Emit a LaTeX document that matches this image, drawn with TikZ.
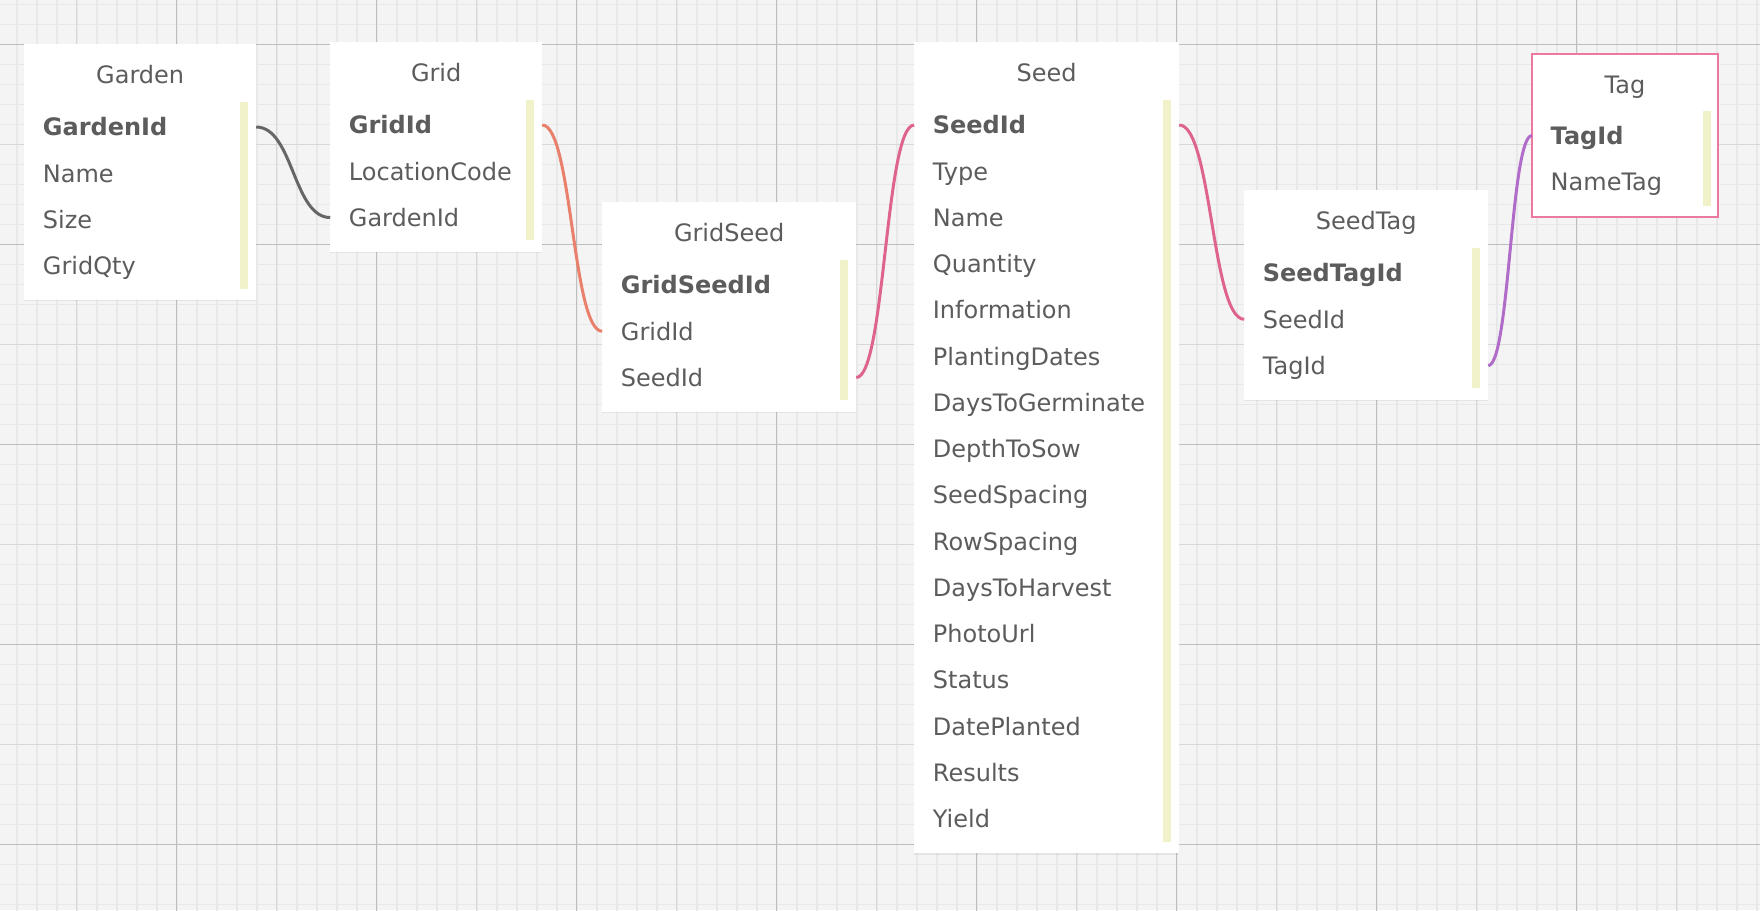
\documentclass[tikz,border=0pt]{standalone}
\usepackage{fontspec}
\setmainfont{DejaVu Sans}
\usetikzlibrary{positioning,shadows}
\definecolor{gridBack}{RGB}{244,244,244}
\definecolor{gridMinor}{RGB}{232,232,232}
\definecolor{gridMid}{RGB}{216,216,216}
\definecolor{gridMajor}{RGB}{190,190,190}
\definecolor{tableText}{RGB}{92,92,92}
\definecolor{keyBar}{RGB}{241,242,202}
\definecolor{linkGray}{RGB}{102,102,102}
\definecolor{linkSalmon}{RGB}{232,128,108}
\definecolor{linkPink}{RGB}{222,100,142}
\definecolor{linkPurple}{RGB}{176,108,200}
\definecolor{tagBorder}{RGB}{236,122,160}

\tikzset{
  tablebox/.style={fill=white, anchor=north west, inner sep=0pt, drop shadow={shadow xshift=0pt, shadow yshift=-1.5pt, opacity=0.12}},
  tabletitle/.style={text=tableText, font=\fontsize{24}{28}\selectfont, inner sep=0pt, outer sep=0pt, text height=17.5pt, text depth=0pt},
  fieldrow/.style={text=tableText, font=\fontsize{24}{28}\selectfont, inner xsep=18.7pt, inner ysep=0pt, outer sep=0pt, minimum height=46.25pt, text height=17.5pt, text depth=0pt, align=left, text width=#1},
  keyrow/.style={fieldrow=#1, font=\fontsize{24}{28}\selectfont\bfseries},
  keybar/.style={fill=keyBar},
  linkline/.style={line width=3pt}
}

\begin{document}
\begin{tikzpicture}[x=1pt, y=-1pt]
            \useasboundingbox (0,0) rectangle (1760,910);
            % paper grid
            \fill[gridBack] (0,0) rectangle (1760,910);
            \draw[gridMinor, line width=1.6pt, shift={(76.7,44.3)}, step=20pt] (-100,-60) grid (1700,880);
            \draw[gridMid, line width=1pt, shift={(76.7,44.3)}, step=100pt] (-100,-100) grid (1700,900);
            \draw[gridMajor, line width=1pt, shift={(176.7,44.3)}, step=200pt] (-200,-200) grid (1600,900);

            % Garden
            \node[tablebox, minimum width=232pt, minimum height=255.75pt] (garden) at (24,44) {};
            \node[tabletitle, below=21.75pt of garden.north] (gardenTitle) {Garden};
            \node[keyrow=194.6pt, below=59.9pt of garden.north] (gardenId) {GardenId};
            \node[fieldrow=194.6pt, below=0pt of gardenId] (gardenName) {Name};
            \node[fieldrow=194.6pt, below=0pt of gardenName] (gardenSize) {Size};
            \node[fieldrow=194.6pt, below=0pt of gardenSize] (gardenQty) {GridQty};
            \fill[keybar] ([xshift=-16pt,yshift=-58pt]garden.north east) rectangle ([xshift=-8pt,yshift=11.5pt]garden.south east);

            % Grid
            \node[tablebox, minimum width=212pt, minimum height=209.5pt] (grid) at (330,42) {};
            \node[tabletitle, below=21.75pt of grid.north] (gridTitle) {Grid};
            \node[keyrow=174.6pt, below=59.9pt of grid.north] (gridId) {GridId};
            \node[fieldrow=174.6pt, below=0pt of gridId] (gridCode) {LocationCode};
            \node[fieldrow=174.6pt, below=0pt of gridCode] (gridGarden) {GardenId};
            \fill[keybar] ([xshift=-16pt,yshift=-58pt]grid.north east) rectangle ([xshift=-8pt,yshift=11.5pt]grid.south east);

            % GridSeed
            \node[tablebox, minimum width=254pt, minimum height=209.5pt] (gridSeed) at (602,202) {};
            \node[tabletitle, below=21.75pt of gridSeed.north] (gridSeedTitle) {GridSeed};
            \node[keyrow=216.6pt, below=59.9pt of gridSeed.north] (gridSeedId) {GridSeedId};
            \node[fieldrow=216.6pt, below=0pt of gridSeedId] (gridSeedGrid) {GridId};
            \node[fieldrow=216.6pt, below=0pt of gridSeedGrid] (gridSeedSeed) {SeedId};
            \fill[keybar] ([xshift=-16pt,yshift=-58pt]gridSeed.north east) rectangle ([xshift=-8pt,yshift=11.5pt]gridSeed.south east);

            % Seed
            \node[tablebox, minimum width=265pt, minimum height=811pt] (seed) at (914,42) {};
            \node[tabletitle, below=21.75pt of seed.north] (seedTitle) {Seed};
            \node[keyrow=227.6pt, below=59.9pt of seed.north] (seedId) {SeedId};
            \node[fieldrow=227.6pt, below=0pt of seedId] (seedType) {Type};
            \node[fieldrow=227.6pt, below=0pt of seedType] (seedName) {Name};
            \node[fieldrow=227.6pt, below=0pt of seedName] (seedQty) {Quantity};
            \node[fieldrow=227.6pt, below=0pt of seedQty] (seedInfo) {Information};
            \node[fieldrow=227.6pt, below=0pt of seedInfo] (seedDates) {PlantingDates};
            \node[fieldrow=227.6pt, below=0pt of seedDates] (seedGerm) {DaysToGerminate};
            \node[fieldrow=227.6pt, below=0pt of seedGerm] (seedDepth) {DepthToSow};
            \node[fieldrow=227.6pt, below=0pt of seedDepth] (seedSpacing) {SeedSpacing};
            \node[fieldrow=227.6pt, below=0pt of seedSpacing] (seedRows) {RowSpacing};
            \node[fieldrow=227.6pt, below=0pt of seedRows] (seedHarvest) {DaysToHarvest};
            \node[fieldrow=227.6pt, below=0pt of seedHarvest] (seedPhoto) {PhotoUrl};
            \node[fieldrow=227.6pt, below=0pt of seedPhoto] (seedStatus) {Status};
            \node[fieldrow=227.6pt, below=0pt of seedStatus] (seedPlanted) {DatePlanted};
            \node[fieldrow=227.6pt, below=0pt of seedPlanted] (seedResults) {Results};
            \node[fieldrow=227.6pt, below=0pt of seedResults] (seedYield) {Yield};
            \fill[keybar] ([xshift=-16pt,yshift=-58pt]seed.north east) rectangle ([xshift=-8pt,yshift=11.5pt]seed.south east);

            % SeedTag
            \node[tablebox, minimum width=244pt, minimum height=209.5pt] (seedTag) at (1244,190) {};
            \node[tabletitle, below=21.75pt of seedTag.north] (seedTagTitle) {SeedTag};
            \node[keyrow=206.6pt, below=59.9pt of seedTag.north] (seedTagId) {SeedTagId};
            \node[fieldrow=206.6pt, below=0pt of seedTagId] (seedTagSeed) {SeedId};
            \node[fieldrow=206.6pt, below=0pt of seedTagSeed] (seedTagTag) {TagId};
            \fill[keybar] ([xshift=-16pt,yshift=-58pt]seedTag.north east) rectangle ([xshift=-8pt,yshift=11.5pt]seedTag.south east);

            % Tag
            \node[tablebox, draw=tagBorder, line width=2pt, minimum width=186pt, minimum height=163.25pt] (tag) at (1531,52.5) {};
            \node[tabletitle, below=23pt of tag.north] (tagTitle) {Tag};
            \node[keyrow=148.6pt, below=59.9pt of tag.north] (tagId) {TagId};
            \node[fieldrow=148.6pt, below=0pt of tagId] (tagName) {NameTag};
            \fill[keybar] ([xshift=-16pt,yshift=-58pt]tag.north east) rectangle ([xshift=-8pt,yshift=11.5pt]tag.south east);

            % relations
            \draw[linkline, linkGray] (gardenId.east) .. controls +(37,0) and +(-37,0) .. (gridGarden.west);
            \draw[linkline, linkSalmon] (gridId.east) .. controls +(30,0) and +(-30,0) .. (gridSeedGrid.west);
            \draw[linkline, linkPink] (gridSeedSeed.east) .. controls +(29,0) and +(-29,0) .. (seedId.west);
            \draw[linkline, linkPink] (seedId.east) .. controls +(32.5,0) and +(-32.5,0) .. (seedTagSeed.west);
            \draw[linkline, linkPurple] (seedTagTag.east) .. controls +(21.5,0) and +(-21.5,0) .. (tagId.west);
        \end{tikzpicture}
\end{document}
